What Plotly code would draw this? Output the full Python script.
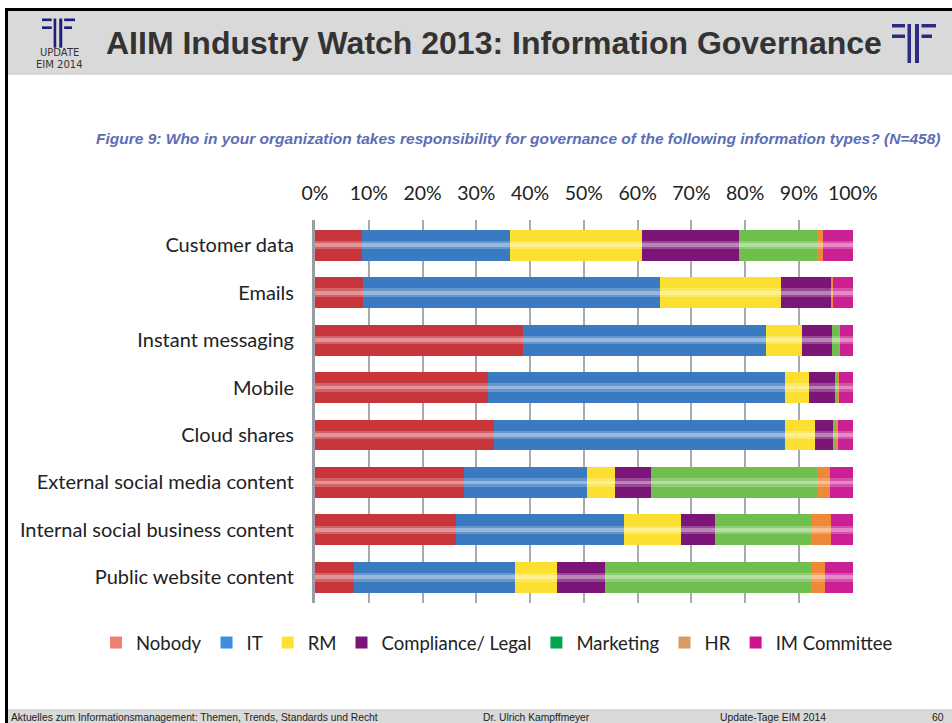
import plotly.graph_objects as go

# survey data (percent of respondents)
categories = [
    "Customer data",
    "Emails",
    "Instant messaging",
    "Mobile",
    "Cloud shares",
    "External social media content",
    "Internal social business content",
    "Public website content",
]
series_names = ["Nobody", "IT", "RM", "Compliance/ Legal", "Marketing", "HR", "IM Committee"]

nobody = [8.8, 8.9, 38.6, 32.1, 33.3, 27.7, 26.3, 7.3]
it = [27.4, 55.3, 45.2, 55.3, 54.1, 22.8, 31.2, 29.9]
rm = [24.6, 22.4, 6.8, 4.4, 5.6, 5.2, 10.6, 7.8]
compliance = [18.1, 9.5, 5.5, 4.9, 3.3, 6.8, 6.2, 8.9]
marketing = [14.4, 0.2, 1.4, 0.6, 0.6, 30.9, 18.0, 38.4]
hr = [1.1, 0.1, 0.2, 0.1, 0.3, 2.3, 3.6, 2.6]
im_committee = [5.6, 3.6, 2.3, 2.6, 2.8, 4.3, 4.1, 5.1]

x_ticks = [0, 10, 20, 30, 40, 50, 60, 70, 80, 90, 100]

bar_colors = ["#C8363B", "#3A7AC0", "#FBE032", "#7B1577", "#70BF4E", "#F0883A", "#CB2094"]
legend_colors = ["#F08073", "#3C8FDB", "#FFE135", "#7A1577", "#00A651", "#DA9A63", "#CC1490"]

W, H = 952, 723


def px(x):
    return x / W


def py(y):
    return 1 - y / H


all_series = [nobody, it, rm, compliance, marketing, hr, im_committee]
totals = [sum(vals) for vals in zip(*all_series)]

fig = go.Figure()

for name, vals, col in zip(series_names, all_series, bar_colors):
    fig.add_trace(go.Bar(
        x=vals, y=categories, orientation="h", name=name,
        marker=dict(color=col, line=dict(width=0)),
        width=0.65, showlegend=False,
        hovertemplate=name + ": %{x:.1f}%<extra></extra>",
    ))

# glossy highlight stripe across each bar
fig.add_trace(go.Bar(
    x=totals, y=categories, orientation="h", yaxis="y2",
    marker=dict(color="rgba(255,255,255,0.22)", line=dict(width=0)),
    width=0.18, showlegend=False, hoverinfo="skip",
))
fig.add_trace(go.Bar(
    x=totals, y=categories, orientation="h", yaxis="y3",
    marker=dict(color="rgba(255,255,255,0.33)", line=dict(width=0)),
    width=0.08, showlegend=False, hoverinfo="skip",
))

# legend entries (the legend swatches use slightly different colours)
for name, col in zip(series_names, legend_colors):
    fig.add_trace(go.Bar(
        x=[None], y=[None], orientation="h", name=name,
        marker=dict(color=col, line=dict(width=0)),
    ))

y_range = [7.54, -0.53]
y_dom = [py(603), py(220)]
hidden_y = dict(domain=y_dom, range=y_range, visible=False, categoryorder="array",
                categoryarray=categories, overlaying="y", fixedrange=True)

fig.update_layout(
    width=W, height=H,
    margin=dict(l=0, r=0, t=0, b=0),
    paper_bgcolor="white", plot_bgcolor="white",
    barmode="stack",
    font=dict(family="Lato, Open Sans, sans-serif", color="#222222"),
    xaxis=dict(
        domain=[px(315), px(853)], range=[0, 100.05], side="top",
        tickvals=x_ticks, ticktext=[f"{t}%" for t in x_ticks],
        tickfont=dict(size=19.5, color="#222222"),
        ticks="outside", ticklen=11, tickcolor="rgba(0,0,0,0)",
        showgrid=True, gridcolor="#A7ABB0", gridwidth=2,
        zeroline=False, showline=False, automargin=False, fixedrange=True,
    ),
    yaxis=dict(
        domain=y_dom, range=y_range, categoryorder="array", categoryarray=categories,
        tickfont=dict(size=20, color="#222222"),
        ticks="outside", ticklen=14, tickcolor="rgba(0,0,0,0)",
        showline=True, linecolor="#9A9EA4", linewidth=3,
        showgrid=False, automargin=False, fixedrange=True,
    ),
    yaxis2=hidden_y,
    yaxis3=dict(hidden_y),
    legend=dict(
        orientation="h", x=px(497), xanchor="center", y=py(643), yanchor="middle",
        font=dict(size=18.5, color="#222222"), traceorder="normal",
        itemwidth=30, bgcolor="rgba(0,0,0,0)",
    ),
)

shapes = []
# slide header band, frame and footer band
shapes.append(dict(type="rect", xref="paper", yref="paper", x0=px(7), x1=1, y0=py(75), y1=py(11),
                   fillcolor="#D9D9D9", line=dict(width=0), layer="below"))
shapes.append(dict(type="rect", xref="paper", yref="paper", x0=px(5), x1=1, y0=py(11), y1=py(8),
                   fillcolor="#000000", line=dict(width=0)))
shapes.append(dict(type="rect", xref="paper", yref="paper", x0=px(5), x1=px(8), y0=0, y1=py(8),
                   fillcolor="#000000", line=dict(width=0)))
shapes.append(dict(type="rect", xref="paper", yref="paper", x0=px(8), x1=1, y0=0, y1=py(709),
                   fillcolor="#D9D9D9", line=dict(width=0), layer="below"))


def logo(x0, y0, s, color):
    # small "=||F" mark built from rectangles, s = scale
    parts = [
        (0, 0, 13, 3.5), (0, 10.5, 13, 14),
        (15.5, 0, 19, 39), (23, 0, 27, 39),
        (29.5, 0, 44, 3.5), (29.5, 10.5, 40, 14),
    ]
    out = []
    for a, b, c, d in parts:
        out.append(dict(type="rect", xref="paper", yref="paper",
                        x0=px(x0 + a * s), x1=px(x0 + c * s),
                        y0=py(y0 + d * s), y1=py(y0 + b * s),
                        fillcolor=color, line=dict(width=0)))
    return out


shapes += logo(892, 24, 1.0, "#2E2A84")
shapes += logo(42, 18.5, 0.75, "#1F1F7A")
fig.update_layout(shapes=shapes)

sans = "Liberation Sans, Arial, sans-serif"
annotations = [
    dict(text="<b>AIIM Industry Watch 2013: Information Governance</b>",
         x=px(104), y=py(43), xanchor="left", yanchor="middle",
         font=dict(family=sans, size=32, color="#333333")),
    dict(text="UPDATE", x=px(59), y=py(53), xanchor="center", yanchor="middle",
         font=dict(family="DejaVu Sans, sans-serif", size=10, color="#333333")),
    dict(text="EIM 2014", x=px(59), y=py(64), xanchor="center", yanchor="middle",
         font=dict(family="DejaVu Sans, sans-serif", size=10, color="#333333")),
    dict(text="<b><i>Figure 9: Who in your organization takes responsibility for governance of the "
              "following information types? (N=458)</i></b>",
         x=px(94), y=py(138), xanchor="left", yanchor="middle",
         font=dict(family=sans, size=15.5, color="#5B6EB5")),
    dict(text="Aktuelles zum Informationsmanagement: Themen, Trends, Standards und Recht",
         x=px(9), y=py(717), xanchor="left", yanchor="middle",
         font=dict(family=sans, size=10.3, color="#222222")),
    dict(text="Dr. Ulrich Kampffmeyer", x=px(481), y=py(717), xanchor="left", yanchor="middle",
         font=dict(family=sans, size=10.3, color="#222222")),
    dict(text="Update-Tage EIM 2014", x=px(718), y=py(717), xanchor="left", yanchor="middle",
         font=dict(family=sans, size=10.3, color="#222222")),
    dict(text="60", x=px(930), y=py(717), xanchor="left", yanchor="middle",
         font=dict(family=sans, size=10.3, color="#222222")),
]
for a in annotations:
    a.update(xref="paper", yref="paper", showarrow=False)
fig.update_layout(annotations=annotations)

fig.write_html("out.html", config={"displayModeBar": False},
               post_script="document.body.style.margin='0';")
